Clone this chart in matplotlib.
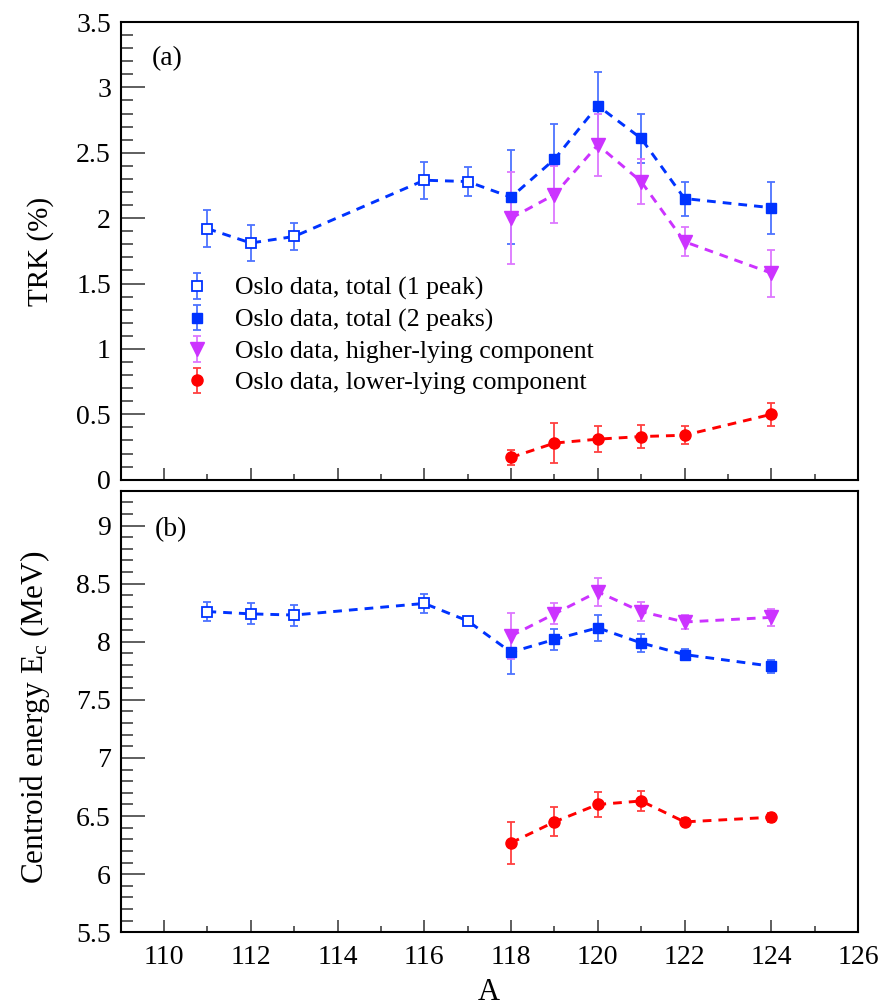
import matplotlib
matplotlib.use("Agg")
import matplotlib.pyplot as plt
from matplotlib.ticker import MultipleLocator
import numpy as np

plt.rcParams['font.family'] = ['Liberation Serif', 'DejaVu Serif']
plt.rcParams['mathtext.fontset'] = 'custom'
plt.rcParams['mathtext.rm'] = 'Liberation Serif'
plt.rcParams['mathtext.it'] = 'Liberation Serif:italic'

# ---------------- data ----------------
A_one = [111, 112, 113, 116, 117]
A_two = [118, 119, 120, 121, 122, 124]

# TRK (%)
trk_one = [1.92, 1.81, 1.86, 2.29, 2.28]
trk_one_err = [0.14, 0.14, 0.10, 0.14, 0.11]
trk_two = [2.16, 2.45, 2.86, 2.61, 2.15, 2.08]
trk_two_err = [0.36, 0.27, 0.26, 0.19, 0.13, 0.20]
trk_high = [2.00, 2.18, 2.56, 2.28, 1.82, 1.58]
trk_high_err = [0.35, 0.22, 0.24, 0.17, 0.11, 0.18]
trk_low = [0.17, 0.28, 0.31, 0.33, 0.34, 0.50]
trk_low_err = [0.06, 0.15, 0.10, 0.09, 0.07, 0.09]

# Centroid energy (MeV)
ec_one = [8.26, 8.24, 8.23, 8.33, 8.18]
ec_one_err = [0.08, 0.09, 0.09, 0.08, 0.03]
ec_two = [7.91, 8.02, 8.12, 7.99, 7.89, 7.79]
ec_two_err = [0.19, 0.09, 0.11, 0.075, 0.05, 0.055]
ec_high = [8.05, 8.24, 8.43, 8.26, 8.17, 8.21]
ec_high_err = [0.20, 0.09, 0.12, 0.08, 0.06, 0.07]
ec_low = [6.27, 6.45, 6.60, 6.63, 6.45, 6.49]
ec_low_err = [0.18, 0.125, 0.11, 0.09, 0.03, 0.04]

labels = ["Oslo data, total (1 peak)", "Oslo data, total (2 peaks)",
          "Oslo data, higher-lying component", "Oslo data, lower-lying component"]

blue = '#0033ff'
blue_e = '#4d73ff'
purple = '#cc33ff'
purple_e = '#dd77ff'
red = '#ff0000'
red_e = '#ff4040'

dash = (0, (3.0, 2.4))
lw = 2.1

fig = plt.figure(figsize=(8.84, 10.06), dpi=100)
L, R = 120.7 / 884, 858 / 884
ax1 = fig.add_axes([L, 1 - 479.7 / 1006, R - L, (479.7 - 22) / 1006])
ax2 = fig.add_axes([L, 1 - 932.3 / 1006, R - L, (932.3 - 490.7) / 1006])


def draw(ax, one, one_e, two, two_e, high, high_e, low, low_e):
    ax.plot(A_one + A_two, one + two, ls=dash, lw=lw, color=blue, zorder=2)
    ax.plot(A_two, high, ls=dash, lw=lw, color=purple, zorder=2)
    ax.plot(A_two, low, ls=dash, lw=lw, color=red, zorder=2)
    h = []
    h.append(ax.errorbar(A_one, one, yerr=one_e, fmt='s', ms=7.5, mfc='white',
                         mec=blue, mew=1.3, ecolor=blue_e, elinewidth=1.3,
                         capsize=3, capthick=1.3, zorder=3))
    h.append(ax.errorbar(A_two, two, yerr=two_e, fmt='s', ms=7.5, mfc=blue,
                         mec=blue, ecolor=blue_e, elinewidth=1.3,
                         capsize=3, capthick=1.3, zorder=3))
    h.append(ax.errorbar(A_two, high, yerr=high_e, fmt='v', ms=10, mfc=purple,
                         mec=purple, ecolor=purple_e, elinewidth=1.3,
                         capsize=3, capthick=1.3, zorder=3))
    h.append(ax.errorbar(A_two, low, yerr=low_e, fmt='o', ms=8, mfc=red,
                         mec=red, ecolor=red_e, elinewidth=1.3,
                         capsize=3, capthick=1.3, zorder=3))
    return h


h = draw(ax1, trk_one, trk_one_err, trk_two, trk_two_err,
         trk_high, trk_high_err, trk_low, trk_low_err)
draw(ax2, ec_one, ec_one_err, ec_two, ec_two_err,
     ec_high, ec_high_err, ec_low, ec_low_err)

for ax in (ax1, ax2):
    ax.set_xlim(109, 126)
    ax.xaxis.set_major_locator(MultipleLocator(2))
    ax.xaxis.set_minor_locator(MultipleLocator(1))
    ax.yaxis.set_major_locator(MultipleLocator(0.5))
    ax.yaxis.set_minor_locator(MultipleLocator(0.1))
    ax.tick_params(axis='both', which='both', direction='in', top=False,
                   right=False, labelsize=20, width=1.1, color='#333333')
    ax.tick_params(axis='y', which='major', length=17, pad=7)
    ax.tick_params(axis='y', which='minor', length=8.5)
    ax.tick_params(axis='x', which='major', length=8.5, pad=9)
    ax.tick_params(axis='x', which='minor', length=4.3)
    for s in ax.spines.values():
        s.set_linewidth(1.5)

ax1.set_ylim(0, 3.5)
ax1.set_yticks(np.arange(0, 3.51, 0.5))
ax1.set_yticklabels(['0', '0.5', '1', '1.5', '2', '2.5', '3', '3.5'])
ax1.tick_params(axis='x', labelbottom=False)

ax2.set_ylim(5.5, 9.3)
ax2.set_yticks(np.arange(5.5, 9.01, 0.5))
ax2.set_yticklabels(['5.5', '6', '6.5', '7', '7.5', '8', '8.5', '9'])

ax1.text(0.042, 0.947, '(a)', transform=ax1.transAxes, fontsize=20,
         ha='left', va='top')
ax2.text(0.046, 0.913, '(b)', transform=ax2.transAxes, fontsize=20,
         ha='left', va='center')

leg = ax1.legend(h, labels, loc='upper left', bbox_to_anchor=(0.0826, 0.443),
                 frameon=False, fontsize=18.5, handlelength=1.2,
                 handletextpad=0.88, labelspacing=0.32, borderpad=0,
                 borderaxespad=0)

fig.text(41 / 884, 1 - 251 / 1006, 'TRK (%)', rotation=90, fontsize=21,
         ha='center', va='center')
fig.text(35 / 884, 1 - 717 / 1006, r'Centroid energy E$_{\mathrm{c}}$ (MeV)',
         rotation=90, fontsize=22.5, ha='center', va='center')
fig.text(489 / 884, 1 - 993 / 1006, 'A', fontsize=22, ha='center',
         va='center')

fig.savefig('out.png', dpi=100)
